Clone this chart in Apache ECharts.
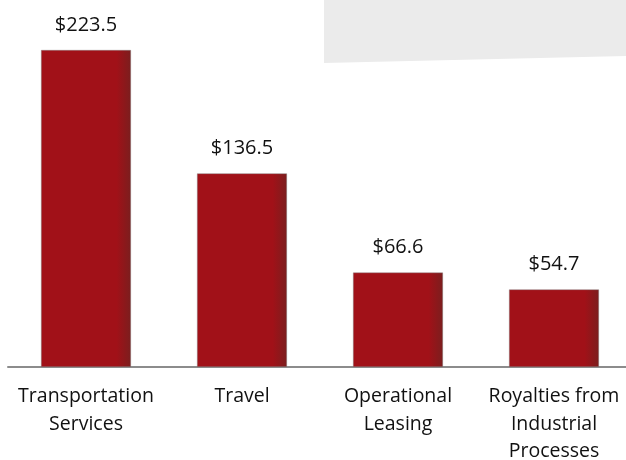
<!DOCTYPE html>
<html>
<head>
<meta charset="utf-8">
<script src="https://cdn.jsdelivr.net/npm/echarts@6/dist/echarts.min.js"></script>
<style>
    html, body { margin: 0; padding: 0; background: #fff; }
    #main { width: 626px; height: 460px; }
</style>
</head>
<body>
<div id="main"></div>
<script>
// 类目
var categories = ['Transportation\nServices', 'Travel', 'Operational\nLeasing', 'Royalties from\nIndustrial\nProcesses'];
// 数值
var values = [223.5, 136.5, 66.6, 54.7];

var barColor = {
    type: 'linear', x: 0, y: 0, x2: 1, y2: 0,
    colorStops: [
        {offset: 0, color: '#a11118'},
        {offset: 0.84, color: '#a11118'},
        {offset: 1, color: '#7b1e1e'}
    ]
};

var chart = echarts.init(document.getElementById('main'));
var option = {
    animation: false,
    textStyle: {fontFamily: '"Open Sans", sans-serif'},
    graphic: [{
        type: 'polygon',
        z: -1,
        shape: {points: [[324, 0], [626, 0], [626, 56], [324, 63]]},
        style: {fill: '#ebebeb'}
    }],
    grid: {left: 8, width: 624, top: 12.4, bottom: 93, outerBoundsMode: 'none', containLabel: false},
    xAxis: {
        type: 'category',
        data: categories,
        axisLine: {lineStyle: {color: '#8c8c8c', width: 2}},
        axisTick: {show: false},
        axisLabel: {
            color: '#111',
            fontSize: 19.5,
            lineHeight: 27.5,
            margin: 16,
            interval: 0
        }
    },
    yAxis: {
        type: 'value',
        min: 0,
        max: 250,
        show: false,
        splitLine: {show: false}
    },
    series: [{
        type: 'bar',
        data: values,
        barWidth: 90,
        itemStyle: {
            color: barColor,
            borderColor: 'rgba(130,130,130,0.7)',
            borderWidth: 0.6
        },
        label: {
            show: true,
            position: 'top',
            distance: 13,
            color: '#111',
            fontSize: 20,
            lineHeight: 24,
            formatter: function (p) { return '$' + p.value.toFixed(1); }
        }
    }]
};
chart.setOption(option);
</script>
</body>
</html>
